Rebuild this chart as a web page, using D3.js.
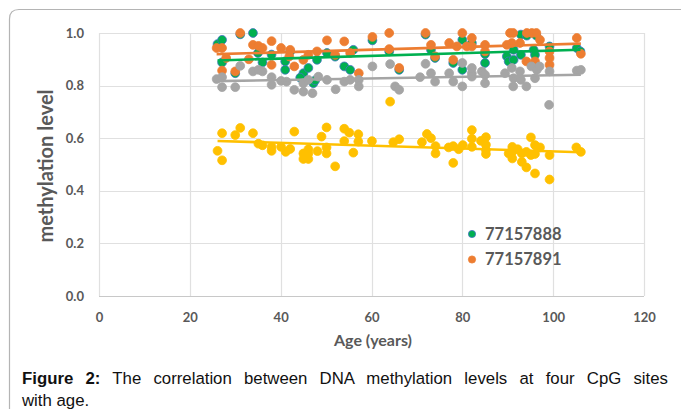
<!DOCTYPE html>
<html>
<head>
<meta charset="utf-8">
<script src="https://cdn.jsdelivr.net/npm/d3@7"></script>
<style>
  body { margin: 0; background: #fff; }
  svg { display: block; }
</style>
</head>
<body>
<svg id="chart"></svg>
<script>
const width = 681;
const height = 409;

// [age, methylation level]
const site77157888 = [
  [26.1,0.958],[27.1,0.974],[33.9,1.0],[27.1,0.888],[35.0,0.924],[36.0,0.888],[38.0,0.918],
  [41.0,0.860],[30.0,0.847],[41.0,0.892],[45.0,0.847],[46.1,0.867],[47.2,0.809],[48.0,0.898],
  [50.2,0.924],[54.0,0.873],[55.3,0.860],[56.0,0.936],[60.2,0.972],[63.9,0.930],[71.9,0.994],
  [73.1,0.936],[78.0,0.886],[80.0,0.860],[82.1,0.962],[80.0,0.974],[85.0,0.886],[85.0,0.920],
  [89.8,0.911],[90.2,0.892],[91.3,0.898],[92.9,0.994],[95.7,0.936],[96.0,0.917],[99.2,0.949],
  [105.2,0.943],[106.0,0.930],[91.3,0.936],[92.9,0.917],[31.1,0.995],[42.1,0.930],[52.0,0.910],
  [66.1,0.860],[74.0,0.905],[94.2,0.990],[96.3,0.990],[44.3,0.830],[47.6,0.820]
];
const site77157891 = [
  [25.9,0.943],[27.1,0.943],[31.1,1.0],[27.1,0.857],[30.0,0.854],[33.9,0.955],[35.1,0.951],
  [36.0,0.943],[38.0,0.969],[40.1,0.943],[38.0,0.879],[42.1,0.936],[43.0,0.873],[41.9,0.911],
  [45.0,0.898],[46.1,0.917],[48.0,0.930],[50.2,0.972],[52.0,0.917],[54.0,0.968],[55.3,0.924],
  [57.2,0.847],[60.2,0.985],[63.9,1.0],[63.9,0.939],[66.1,0.867],[71.9,1.0],[73.1,0.955],
  [74.0,0.911],[77.1,0.962],[78.0,0.898],[78.8,0.949],[80.0,1.0],[81.0,0.949],[82.1,0.981],
  [82.1,0.949],[85.0,0.955],[85.0,0.930],[89.8,0.955],[90.5,1.0],[91.2,1.0],[90.9,0.962],
  [92.7,0.962],[94.2,1.0],[95.3,1.0],[96.3,1.0],[97.1,0.974],[99.2,0.930],[99.2,0.905],
  [99.2,0.879],[105.2,0.981],[106.1,0.921],[94.1,0.892],[96.0,0.892],[28.0,0.905],[33.0,0.900]
];
const site3 = [
  [25.9,0.825],[27.1,0.832],[27.1,0.794],[30.0,0.794],[31.1,0.875],[33.9,0.854],[35.1,0.860],
  [36.0,0.854],[38.0,0.832],[38.0,0.803],[40.1,0.818],[41.3,0.815],[43.0,0.784],[45.0,0.777],
  [45.0,0.809],[46.1,0.822],[47.0,0.771],[48.3,0.834],[50.2,0.822],[52.1,0.786],[54.0,0.815],
  [55.3,0.822],[57.2,0.822],[57.2,0.797],[60.2,0.873],[64.1,0.882],[65.2,0.797],[66.1,0.784],
  [70.7,0.832],[71.9,0.883],[73.1,0.847],[74.0,0.815],[77.1,0.847],[78.0,0.815],[80.0,0.886],
  [80.0,0.797],[82.1,0.847],[82.1,0.867],[82.1,0.834],[84.3,0.854],[85.0,0.841],[85.0,0.809],
  [89.4,0.847],[90.9,0.867],[91.3,0.828],[91.2,0.797],[92.7,0.854],[92.9,0.822],[94.1,0.797],
  [95.2,0.873],[96.4,0.860],[97.0,0.873],[96.0,0.828],[99.2,0.854],[99.1,0.727],[105.2,0.857],
  [106.1,0.860]
];
const site4 = [
  [26.1,0.552],[27.1,0.619],[27.1,0.516],[30.0,0.612],[31.1,0.639],[33.9,0.619],[35.1,0.579],
  [36.0,0.573],[38.0,0.567],[38.0,0.552],[40.1,0.567],[41.1,0.548],[42.1,0.559],[43.0,0.625],
  [45.0,0.542],[45.0,0.521],[46.1,0.558],[46.1,0.542],[46.1,0.521],[48.1,0.551],[49.0,0.606],
  [50.1,0.641],[50.1,0.565],[50.1,0.542],[52.0,0.493],[54.0,0.636],[54.0,0.589],[55.1,0.621],
  [56.0,0.545],[57.1,0.615],[57.1,0.587],[60.1,0.589],[64.1,0.739],[64.8,0.585],[66.1,0.596],
  [71.1,0.585],[72.2,0.616],[73.1,0.600],[74.1,0.570],[74.1,0.542],[77.0,0.565],[78.0,0.570],
  [78.0,0.506],[79.2,0.558],[80.1,0.574],[82.1,0.631],[82.1,0.598],[82.1,0.567],[84.1,0.590],
  [85.2,0.604],[85.2,0.575],[85.2,0.555],[85.2,0.540],[90.2,0.542],[91.0,0.567],[91.0,0.548],
  [91.0,0.523],[92.2,0.558],[93.1,0.542],[93.1,0.510],[94.1,0.548],[94.1,0.489],[95.1,0.603],
  [95.1,0.536],[96.0,0.574],[96.0,0.540],[96.0,0.466],[97.1,0.565],[99.2,0.536],[99.2,0.443],
  [105.1,0.565],[106.1,0.548]
];

const seriesData = [site77157888, site77157891, site3, site4];
const seriesFill = ["#00B050", "#ED7D31", "#A5A5A5", "#FFC000"];
const seriesStroke = ["#4472C4", "#ED7D31", "#A5A5A5", "#FFC000"];
const legendNames = ["77157888", "77157891"];

const xTicks = [0, 20, 40, 60, 80, 100, 120];
const yTicks = [0, 0.2, 0.4, 0.6, 0.8, 1.0];

const margin = { left: 99, right: 37, top: 33, bottom: 113 };

const svg = d3.select("#chart")
  .attr("width", width)
  .attr("height", height);

// Outer frame with rounded corner
svg.append("path")
  .attr("d", "M9.5,409 L9.5,19 Q9.5,9.5 19,9.5 L690,9.5")
  .attr("fill", "none")
  .attr("stroke", "#b4b4b4")
  .attr("stroke-width", 1.2);

const x = d3.scaleLinear().domain([0, 120]).range([margin.left, width - margin.right]);
const y = d3.scaleLinear().domain([0, 1]).range([height - margin.bottom, margin.top]);

const font = "Lato, 'Open Sans', sans-serif";

// Grid lines
svg.append("g")
  .selectAll("line")
  .data(yTicks)
  .enter().append("line")
  .attr("x1", x(0)).attr("x2", x(120))
  .attr("y1", d => Math.round(y(d)) + 0.5).attr("y2", d => Math.round(y(d)) + 0.5)
  .attr("stroke", d => d === 0 ? "#c8c8c8" : "#e0e0e0")
  .attr("stroke-width", 1.2);

svg.append("g")
  .selectAll("line")
  .data(xTicks)
  .enter().append("line")
  .attr("y1", y(0)).attr("y2", y(1))
  .attr("x1", d => Math.round(x(d)) + 0.5).attr("x2", d => Math.round(x(d)) + 0.5)
  .attr("stroke", "#e0e0e0")
  .attr("stroke-width", 1.2);

// Axes (labels only, like the Excel original)
const xAxis = svg.append("g")
  .attr("transform", `translate(0,${y(0)})`)
  .call(d3.axisBottom(x).tickValues(xTicks).tickSize(0).tickPadding(17).tickFormat(d3.format("d")));
const yAxis = svg.append("g")
  .attr("transform", `translate(${x(0)},0)`)
  .call(d3.axisLeft(y).tickValues(yTicks).tickSize(0).tickPadding(15).tickFormat(d3.format(".1f")));
[xAxis, yAxis].forEach(a => {
  a.select(".domain").remove();
  a.selectAll("text")
    .attr("fill", "#595959")
    .style("font-family", font)
    .style("font-weight", "700")
    .style("font-size", "13px");
});

// Points
seriesData.forEach((data, i) => {
  svg.append("g")
    .selectAll("circle")
    .data(data)
    .enter().append("circle")
    .attr("cx", d => x(d[0]))
    .attr("cy", d => y(d[1]))
    .attr("r", 4.4)
    .attr("fill", seriesFill[i])
    .attr("stroke", seriesStroke[i])
    .attr("stroke-width", 0.8);
});

// Linear trend lines
function trend(data) {
  const mx = d3.mean(data, d => d[0]);
  const my = d3.mean(data, d => d[1]);
  let sxy = 0, sxx = 0;
  data.forEach(d => { sxy += (d[0] - mx) * (d[1] - my); sxx += (d[0] - mx) * (d[0] - mx); });
  const b = sxy / sxx;
  const a = my - b * mx;
  const [x0, x1] = d3.extent(data, d => d[0]);
  return [[x0, a + b * x0], [x1, a + b * x1]];
}

seriesData.forEach((data, i) => {
  const t = trend(data);
  svg.append("line")
    .attr("x1", x(t[0][0])).attr("y1", y(t[0][1]))
    .attr("x2", x(t[1][0])).attr("y2", y(t[1][1]))
    .attr("stroke", seriesFill[i])
    .attr("stroke-width", 2.6);
});

// Legend
const legend = svg.append("g");
legendNames.forEach((name, i) => {
  const ly = 234 + i * 25.5;
  legend.append("circle")
    .attr("cx", 472).attr("cy", ly).attr("r", 3.6)
    .attr("fill", seriesFill[i]).attr("stroke", seriesStroke[i]).attr("stroke-width", 0.8);
  legend.append("text")
    .attr("x", 485).attr("y", ly + 5.5)
    .attr("fill", "#595959")
    .style("font-family", font).style("font-weight", "700").style("font-size", "16.5px")
    .text(name);
});

// Axis titles
svg.append("text")
  .attr("transform", `translate(53,166) rotate(-90)`)
  .attr("text-anchor", "middle")
  .attr("fill", "#595959")
  .style("font-family", font).style("font-weight", "700").style("font-size", "20px")
  .text("methylation level");

svg.append("text")
  .attr("x", 373).attr("y", 346)
  .attr("text-anchor", "middle")
  .attr("fill", "#595959")
  .style("font-family", font).style("font-weight", "700").style("font-size", "16px")
  .text("Age (years)");

// Caption, justified to the frame width
const capFont = "'Liberation Sans', Arial, sans-serif";
const cap1 = svg.append("text")
  .attr("x", 22).attr("y", 384)
  .attr("fill", "#111")
  .style("font-family", capFont).style("font-size", "16.8px");
cap1.append("tspan").style("font-weight", "700").text("Figure 2:");
cap1.append("tspan").text(" The correlation between DNA methylation levels at four CpG sites");
const len = cap1.node().getComputedTextLength();
cap1.style("word-spacing", Math.max(0, (668 - 22 - len) / 11) + "px");

svg.append("text")
  .attr("x", 22).attr("y", 406)
  .attr("fill", "#111")
  .style("font-family", capFont).style("font-size", "16.8px")
  .text("with age.");
</script>
</body>
</html>
